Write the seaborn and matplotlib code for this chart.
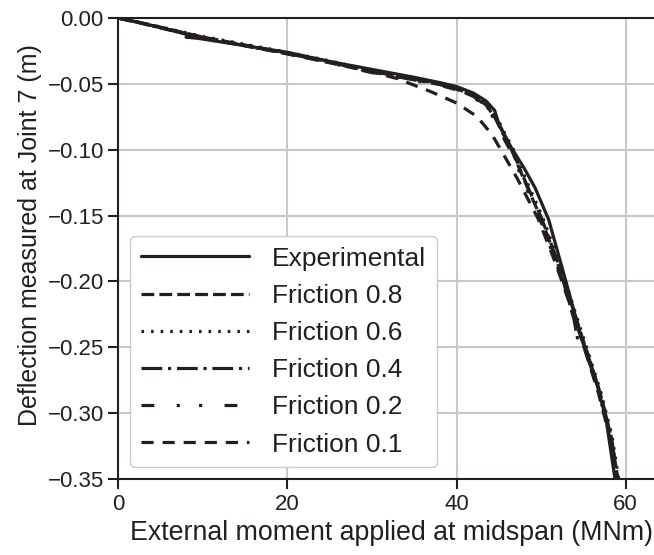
import seaborn as sns
import matplotlib.pyplot as plt
import pandas as pd

########################################################
# Data
########################################################
exp_x = [0, 3, 6, 8.5, 8.0, 9.5, 12, 16, 20, 25, 30, 35, 38, 40, 42, 43.5, 44.5, 45.0,
         46.4, 48, 49.3, 50.9, 52.9, 54.5, 55.3, 56.7, 57.7, 58.7, 59.0]
exp_y = [0, -0.004, -0.009, -0.013, -0.0145, -0.0155, -0.018, -0.022, -0.026, -0.033,
         -0.039, -0.045, -0.049, -0.052, -0.057, -0.063, -0.070, -0.080,
         -0.0975, -0.114, -0.129, -0.153, -0.199, -0.2365, -0.254, -0.280, -0.305, -0.348, -0.36]

f08_x = [0, 5, 10, 15, 20, 25, 30, 35, 38, 40, 42, 43.5, 44.5, 45.5, 46.5, 48, 50, 52, 54,
         55.5, 57, 58.3, 59.2]
f08_y = [0, -0.007, -0.0145, -0.0205, -0.0265, -0.033, -0.0405, -0.0465, -0.050, -0.0535,
         -0.059, -0.066, -0.075, -0.088, -0.100, -0.123, -0.152, -0.187, -0.225,
         -0.255, -0.285, -0.318, -0.355]

f06_x = [0, 5, 10, 15, 20, 25, 30, 35, 38, 40, 42, 43.6, 44.7, 45.7, 46.7, 48.2, 50.2, 52.2,
         54.1, 55.6, 57.1, 58.4, 59.3]
f06_y = [0, -0.0068, -0.014, -0.020, -0.026, -0.0325, -0.040, -0.046, -0.0495, -0.053,
         -0.0585, -0.0655, -0.0745, -0.0875, -0.0995, -0.1225, -0.1515, -0.1865, -0.2245,
         -0.2545, -0.2845, -0.3175, -0.355]

f04_x = [0, 5, 10, 15, 20, 25, 30, 35, 38, 40, 42, 43.5, 44.6, 45.6, 46.6, 48.1, 50.1, 52.1,
         53.9, 54.3, 54.6, 55.6, 57.0, 58.3, 59.2]
f04_y = [0, -0.0072, -0.0148, -0.021, -0.027, -0.0335, -0.041, -0.047, -0.0505, -0.054,
         -0.0595, -0.0665, -0.0755, -0.0885, -0.1005, -0.1235, -0.1525, -0.1875, -0.229,
         -0.243, -0.240, -0.256, -0.285, -0.318, -0.355]

f02_x = [0, 5, 10, 15, 20, 25, 30, 35, 38, 40, 42, 43.4, 44.4, 45.4, 46.4, 47.9, 49.9, 51.9,
         53.9, 55.4, 56.9, 58.2, 59.1]
f02_y = [0, -0.0075, -0.015, -0.0212, -0.0272, -0.034, -0.0415, -0.0475, -0.051, -0.0545,
         -0.060, -0.067, -0.076, -0.089, -0.101, -0.124, -0.153, -0.188, -0.226,
         -0.256, -0.286, -0.319, -0.355]

f01_x = [0, 5, 10, 15, 20, 25, 30, 33, 35, 37, 40, 42.4, 44.2, 45.6, 47.2, 49.7, 51.7, 53.3,
         55.0, 56.8, 58.2, 59.1]
f01_y = [0, -0.0075, -0.015, -0.0212, -0.0272, -0.034, -0.041, -0.046, -0.051, -0.056,
         -0.0645, -0.0747, -0.0885, -0.104, -0.122, -0.153, -0.186, -0.215,
         -0.248, -0.285, -0.320, -0.355]

labels = ['Experimental', 'Friction 0.8', 'Friction 0.6', 'Friction 0.4',
          'Friction 0.2', 'Friction 0.1']
xs = [exp_x, f08_x, f06_x, f04_x, f02_x, f01_x]
ys = [exp_y, f08_y, f06_y, f04_y, f02_y, f01_y]
styles = ['-', (0, (4, 1.6)), (0, (0.8, 2.2)), (0, (6.5, 1.8, 1, 1.8)),
          (0, (4, 7, 1, 6, 1, 7)), (0, (3.8, 2.8))]

########################################################
# Plot
########################################################
sns.set_style('ticks')
plt.rcParams['font.family'] = ['Liberation Sans', 'DejaVu Sans']
plt.rcParams['axes.unicode_minus'] = True

fig = plt.figure(figsize=(6.54, 5.55), dpi=100)
ax = fig.add_axes([0.181, 0.137, 0.835, 0.8305])

for x, y, lab, ls in zip(xs, ys, labels, styles):
    df = pd.DataFrame({'moment': x, 'deflection': y})
    sns.lineplot(data=df, x='moment', y='deflection', sort=False, estimator=None,
                 color='#231f20', linewidth=2.3, linestyle=ls, label=lab, ax=ax)

ax.set_xlim(0, 64.6)
ax.set_ylim(-0.35, 0.0)
ax.set_xticks([0, 20, 40, 60])
ax.set_yticks([0.0, -0.05, -0.10, -0.15, -0.20, -0.25, -0.30, -0.35])
ax.yaxis.set_major_formatter(plt.FuncFormatter(
    lambda v, p: f'{v:.2f}'.replace('-', '\u2212') if abs(v) > 1e-9 else '0.00'))
ax.grid(True, color='#c8c8c8', linewidth=1.5)
ax.set_axisbelow(True)
ax.spines['right'].set_visible(False)
for s in ['left', 'top', 'bottom']:
    ax.spines[s].set_color('#231f20')
    ax.spines[s].set_linewidth(1.5)
ax.tick_params(direction='out', length=7, width=1.5, colors='#231f20',
               labelsize=16, labelcolor='#231f20')

ax.set_xlabel('External moment applied at midspan (MNm)', fontsize=19.3, color='#231f20')
ax.set_ylabel('Deflection measured at Joint 7 (m)', fontsize=18, color='#231f20')
ax.yaxis.label.set_y(0.53)

leg = ax.legend(loc='lower left', fontsize=19, handlelength=4.1, handletextpad=0.87,
                labelspacing=0.5, frameon=True, fancybox=True, framealpha=1,
                edgecolor='#cccccc', borderaxespad=0.45)
for t in leg.get_texts():
    t.set_color('#231f20')

plt.savefig('out.png', dpi=100)
